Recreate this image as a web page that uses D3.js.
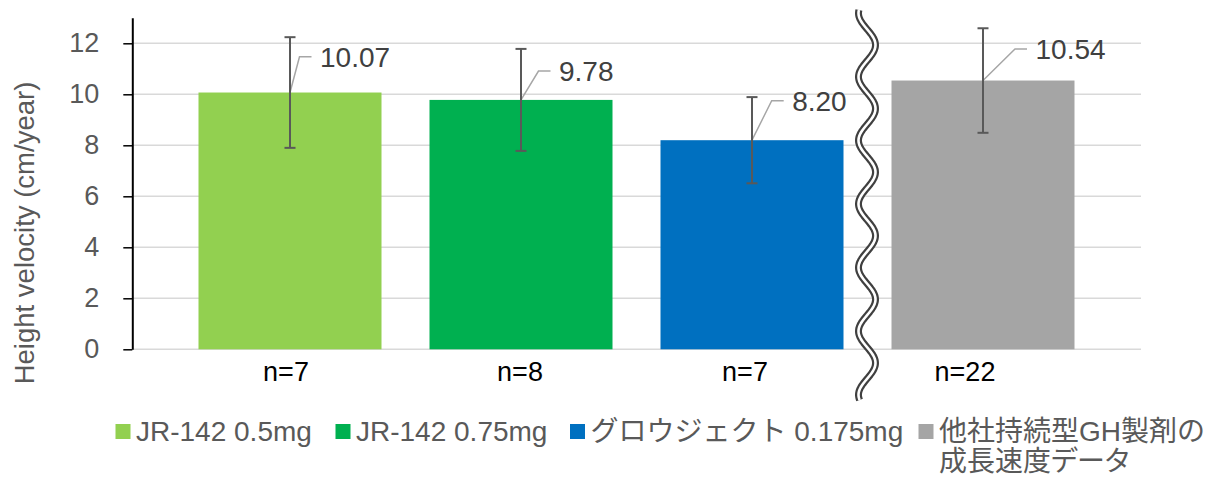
<!DOCTYPE html>
<html>
<head>
<meta charset="utf-8">
<script src="https://cdn.jsdelivr.net/npm/d3@7"></script>
<style>
  html, body { margin: 0; padding: 0; background: #fff; }
  svg { display: block; }
  text { font-family: "Liberation Sans", Arial, "Noto Sans CJK JP", sans-serif; }
  .palt { font-feature-settings: "palt" 1; }
</style>
</head>
<body>
<svg id="chart" width="1209" height="477"></svg>
<script>
// ---- data ----
const categories = ["JR-142 0.5mg", "JR-142 0.75mg", "グロウジェクト 0.175mg", "他社持続型GH製剤の成長速度データ"];
const legendLines = [["JR-142 0.5mg"], ["JR-142 0.75mg"], ["グロウジェクト 0.175mg"], ["他社持続型GH製剤の", "成長速度データ"]];
const means = [10.07, 9.78, 8.20, 10.54];
const sds = [2.17, 2.00, 1.69, 2.05];
const nLabels = ["n=7", "n=8", "n=7", "n=22"];
const yTicks = [0, 2, 4, 6, 8, 10, 12];
const yTitle = "Height velocity (cm/year)";

// ---- style / layout ----
const colors = ["#92D050", "#00B050", "#0070C0", "#A5A5A5"];
const labelValueAt = [11.47, 10.91, 9.75, 11.78]; // label height (in axis units)
const labelKinkDx = [9.5, 17.5, 19.7, 32];
const nLabelDx = [-4, -1, -7, -18];
const legendX = [115.5, 335.5, 570, 918.5];

const svg = d3.select("#chart");
const axisX = 132.3, gridRight = 1141;
const y = d3.scaleLinear().domain([0, 13]).range([349.3, 17.8]);
const x = d3.scaleBand().domain(categories).range([174.5, 1098.5])
  .paddingInner(0.2078).paddingOuter(0.1039);

// gridlines
svg.append("g").selectAll("line").data(yTicks).join("line")
  .attr("x1", axisX).attr("x2", gridRight)
  .attr("y1", d => y(d)).attr("y2", d => y(d))
  .attr("stroke", "#D9D9D9").attr("stroke-width", 1.5);

// bars
svg.append("g").selectAll("rect").data(categories).join("rect")
  .attr("x", d => x(d)).attr("width", x.bandwidth())
  .attr("y", (d, i) => y(means[i]))
  .attr("height", (d, i) => y(0) - y(means[i]))
  .attr("fill", (d, i) => colors[i]);

// leader lines + labels
const lab = svg.append("g");
categories.forEach((c, i) => {
  const cx = x(c) + x.bandwidth() / 2;
  const ky = y(labelValueAt[i]);
  const kx = cx + labelKinkDx[i];
  lab.append("path")
    .attr("d", `M${cx},${y(means[i])}L${kx},${ky}L${kx + 12},${ky}`)
    .attr("fill", "none").attr("stroke", "#A6A6A6").attr("stroke-width", 1.5);
  lab.append("text")
    .attr("x", kx + 20.5).attr("y", ky).attr("dy", "0.36em")
    .attr("font-size", 28).attr("fill", "#404040")
    .text(means[i].toFixed(2));
});

// error bars
const eb = svg.append("g").attr("stroke", "#595959").attr("stroke-width", 2);
categories.forEach((c, i) => {
  const cx = x(c) + x.bandwidth() / 2;
  const top = y(means[i] + sds[i]), bot = y(means[i] - sds[i]);
  eb.append("line").attr("x1", cx).attr("x2", cx).attr("y1", top).attr("y2", bot);
  eb.append("line").attr("x1", cx - 5.5).attr("x2", cx + 5.5).attr("y1", top).attr("y2", top);
  eb.append("line").attr("x1", cx - 5.5).attr("x2", cx + 5.5).attr("y1", bot).attr("y2", bot);
});

// y axis
const yAxis = svg.append("g").attr("transform", `translate(${axisX},0)`)
  .call(d3.axisLeft(y).tickValues(yTicks).tickSize(9).tickPadding(24).tickSizeOuter(0));
yAxis.select(".domain").attr("stroke", "#000").attr("stroke-width", 2);
yAxis.selectAll(".tick line").attr("stroke", "#000").attr("stroke-width", 1.5);
yAxis.selectAll(".tick text").attr("font-size", 27).attr("fill", "#595959")
  .attr("font-family", '"Liberation Sans", Arial, sans-serif');

// y title
svg.append("text")
  .attr("transform", `translate(33.5,${233}) rotate(-90)`)
  .attr("text-anchor", "middle").attr("font-size", 27.5).attr("fill", "#595959")
  .text(yTitle);

// n labels
svg.append("g").selectAll("text").data(categories).join("text")
  .attr("x", (d, i) => x(d) + x.bandwidth() / 2 + nLabelDx[i])
  .attr("y", 380.7).attr("text-anchor", "middle")
  .attr("font-size", 27).attr("fill", "#000")
  .text((d, i) => nLabels[i]);

// axis break (wavy double line) between 3rd and 4th bar
const breakX = (x(categories[2]) + x.bandwidth() + x(categories[3])) / 2 - 0.5;
const wavePts = d3.range(10, 400.5, 1).map(v => [breakX + 8.5 * Math.sin(2 * Math.PI * (v - 45) / 63.6 + Math.PI / 2), v]);
const wl = d3.line().curve(d3.curveBasis);
svg.append("path").attr("d", wl(wavePts)).attr("fill", "none")
  .attr("stroke", "#404040").attr("stroke-width", 7);
svg.append("path").attr("d", wl(wavePts)).attr("fill", "none")
  .attr("stroke", "#fff").attr("stroke-width", 2.6);

// legend
const lg = svg.append("g");
categories.forEach((c, i) => {
  lg.append("rect").attr("x", legendX[i]).attr("y", 424).attr("width", 15).attr("height", 15)
    .attr("fill", colors[i]);
  const t = lg.append("text").attr("x", legendX[i] + 20.5).attr("y", 441)
    .attr("font-size", 28).attr("fill", "#595959");
  legendLines[i].forEach((ln, j) => {
    t.append("tspan").attr("x", legendX[i] + 20.5).attr("dy", j === 0 ? 0 : 30)
      .attr("class", j === 0 ? null : "palt").text(ln);
  });
});
</script>
</body>
</html>
